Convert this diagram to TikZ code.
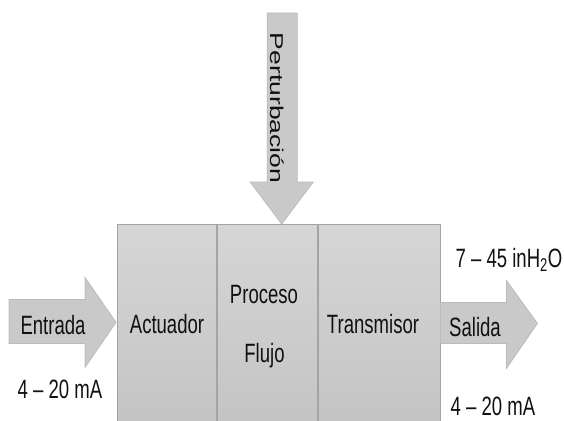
\documentclass[tikz,border=0pt]{standalone}
\usepackage{fontspec}
\setmainfont{Liberation Sans}
\newfontfamily\narrowfont{Liberation Sans}[FakeStretch=0.7]
\usepackage{tikz}
\usetikzlibrary{calc}
\definecolor{boxtop}{HTML}{D6D6D6}
\definecolor{boxbot}{HTML}{C4C4C4}
\definecolor{boxline}{HTML}{A4A4A4}
\definecolor{arrfill}{HTML}{C9C9C9}
\definecolor{arrline}{HTML}{BBBBBB}
\definecolor{txt}{HTML}{111111}

\begin{document}
\begin{tikzpicture}[x=1pt,y=-1pt,
    block/.style={draw=boxline,line width=0.8pt,top color=boxtop,bottom color=boxbot,
      minimum width=#1,minimum height=200pt,anchor=north west,inner sep=0pt},
    lbl/.style={font=\narrowfont\fontsize{26.5}{30}\selectfont,text=txt,inner sep=0pt,anchor=base},
    bigarrow/.style={fill=arrfill,draw=arrline,line width=0.8pt,line join=miter}]
        \clip (0,0) rectangle (564,420);
        % The three blocks
        \node[block=99pt] (act) at (117,224) {};
        \node[block=100pt] (proc) at (act.north east) {};
        \node[block=122pt] (trans) at (proc.north east) {};
        % Tips of the block arrows
        \coordinate (inTip) at ($(act.west)+(-1,-2)$); % Entrada
        \coordinate (outTail) at ($(trans.east)+(0,-1)$); % Salida
        \coordinate (pertTip) at ($(proc.north)+(14.5,0)$); % Perturbacion
        % Block arrows
        \draw[bigarrow] ($(inTip)+(-107,-23)$) -- ($(inTip)+(-31,-23)$) -- ($(inTip)+(-31,-45)$)
          -- (inTip) -- ($(inTip)+(-31,45)$) -- ($(inTip)+(-31,21)$) -- ($(inTip)+(-107,21)$) -- cycle;
        \draw[bigarrow] ($(outTail)+(0,-21)$) -- ($(outTail)+(66,-21)$) -- ($(outTail)+(66,-43)$)
          -- ($(outTail)+(97,0)$) -- ($(outTail)+(66,45)$) -- ($(outTail)+(66,20)$) -- ($(outTail)+(0,20)$) -- cycle;
        \draw[bigarrow] ($(pertTip)+(-14.5,-211)$) -- ($(pertTip)+(15.5,-211)$) -- ($(pertTip)+(15.5,-42)$)
          -- ($(pertTip)+(31.5,-42)$) -- (pertTip) -- ($(pertTip)+(-31.5,-42)$) -- ($(pertTip)+(-14.5,-42)$) -- cycle;
        % Labels
        \node[lbl] (entrada) at (53,334) {Entrada};
        \node[lbl] (inRange) at (60,398) {4 – 20 mA};
        \node[lbl] (actLbl) at (167,333) {Actuador};
        \node[lbl] (procLbl) at (264,303) {Proceso};
        \node[lbl] (flujoLbl) at (264.5,362) {Flujo};
        \node[lbl] (transLbl) at (373,333) {Transmisor};
        \node[lbl] (salida) at (475,336) {Salida};
        \node[lbl] (outRange) at (493,415) {4 – 20 mA};
        \node[lbl] (presRange) at (509,267) {7 – 45 inH\textsubscript{2}O};
        \node[rotate=-90,text=txt,inner sep=0pt] (pert) at (277,108)
          {\scalebox{1}[0.7]{\fontsize{26.5}{30}\selectfont Perturbación}};
\end{tikzpicture}
\end{document}
